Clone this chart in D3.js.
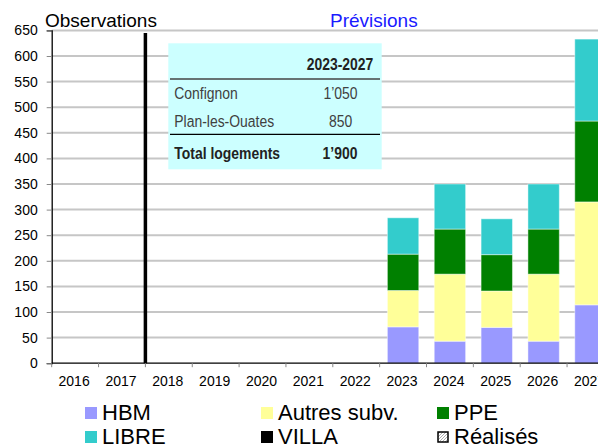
<!DOCTYPE html>
<html>
<head>
<meta charset="utf-8">
<script src="https://cdn.jsdelivr.net/npm/d3@7"></script>
<style>
  body { margin: 0; background: #fff; }
  svg { display: block; font-family: "Liberation Sans", Arial, sans-serif; }
</style>
</head>
<body>
<script>
// data
var years  = ["2016","2017","2018","2019","2020","2021","2022","2023","2024","2025","2026","2027"];
var hbm    = [0, 0, 0, 0, 0, 0, 0, 71, 43, 70, 43, 114];
var autres = [0, 0, 0, 0, 0, 0, 0, 71, 131, 71, 131, 201];
var ppe    = [0, 0, 0, 0, 0, 0, 0, 71, 88, 71, 88, 158];
var libre  = [0, 0, 0, 0, 0, 0, 0, 71, 88, 70, 88, 160];
var villa  = [0, 0, 0, 0, 0, 0, 0, 0, 0, 0, 0, 0];
var yTicks = [0, 50, 100, 150, 200, 250, 300, 350, 400, 450, 500, 550, 600, 650];

var seriesNames  = ["HBM", "Autres subv.", "PPE", "LIBRE", "VILLA"];
var seriesColors = ["#9999ff", "#ffff99", "#008000", "#33cccc", "#000000"];
var legendNames  = ["HBM", "Autres subv.", "PPE", "LIBRE", "VILLA", "Réalisés"];
var lastObservedYear = "2017";

var tableHeader = "2023-2027";
var tableLabels = ["Confignon", "Plan-les-Ouates"];
var tableValues = ["1’050", "850"];
var totalLabel = "Total logements";
var totalValue = "1’900";

// dimensions
var W = 598, H = 446;
var plotLeft = 51.7, plotBottom = 363.2, plotTop = 30.4;
var step = 46.85;

var svg = d3.select("body").append("svg")
    .attr("width", W)
    .attr("height", H);

var defs = svg.append("defs");
var pat = defs.append("pattern")
    .attr("id", "hatch")
    .attr("patternUnits", "userSpaceOnUse")
    .attr("width", 3).attr("height", 3);
pat.append("rect").attr("width", 3).attr("height", 3).attr("fill", "#fff");
pat.append("path").attr("d", "M0,3 L3,0").attr("stroke", "#999").attr("stroke-width", 0.8);

var x = d3.scaleBand()
    .domain(years)
    .range([plotLeft, plotLeft + step * years.length])
    .paddingInner(0.33)
    .paddingOuter(0.165);

var y = d3.scaleLinear().domain([0, 650]).range([plotBottom, plotTop]);

// gridlines
svg.append("g")
  .selectAll("line")
  .data(yTicks.slice(1))
  .enter().append("line")
    .attr("x1", plotLeft).attr("x2", W)
    .attr("y1", function(d) { return y(d); })
    .attr("y2", function(d) { return y(d); })
    .attr("stroke", "#c6c6c6")
    .attr("stroke-width", 2);

// stacked bars
var rows = years.map(function(yr, i) {
  return {year: yr, "HBM": hbm[i], "Autres subv.": autres[i], "PPE": ppe[i], "LIBRE": libre[i], "VILLA": villa[i]};
});
var stack = d3.stack().keys(seriesNames)(rows);

svg.append("g")
  .selectAll("g")
  .data(stack)
  .enter().append("g")
    .attr("fill", function(d, i) { return seriesColors[i]; })
  .selectAll("rect")
  .data(function(d) { return d.filter(function(p) { return p[1] - p[0] > 0; }); })
  .enter().append("rect")
    .attr("x", function(d) { return x(d.data.year); })
    .attr("width", x.bandwidth())
    .attr("y", function(d) { return y(d[1]); })
    .attr("height", function(d) { return y(d[0]) - y(d[1]); })
    .attr("stroke", "rgba(255,255,255,0.45)")
    .attr("stroke-width", 1);

// separator between observations and forecasts
var sepX = x(lastObservedYear) + x.step() - x.step() * x.paddingInner() / 2;
svg.append("line")
    .attr("x1", sepX).attr("x2", sepX)
    .attr("y1", y(650) + 2.5).attr("y2", plotBottom)
    .attr("stroke", "#000")
    .attr("stroke-width", 3.5);

// y axis
var yAxis = svg.append("g")
    .attr("transform", "translate(" + plotLeft + ",0)")
    .call(d3.axisLeft(y).tickValues(yTicks).tickSize(5).tickPadding(9));
yAxis.select(".domain").attr("stroke", "#000").attr("stroke-width", 1.3);
yAxis.selectAll(".tick line").attr("stroke", "#888");
yAxis.selectAll("text")
    .attr("font-family", "Liberation Sans, Arial, sans-serif")
    .attr("font-size", 14)
    .attr("fill", "#000");

// x axis with ticks at band boundaries
var xAxis = svg.append("g")
    .attr("transform", "translate(0," + plotBottom + ")");
xAxis.append("line")
    .attr("x1", plotLeft).attr("x2", W)
    .attr("stroke", "#000").attr("stroke-width", 1.3);
xAxis.selectAll(".bt")
  .data(years)
  .enter().append("line")
    .attr("class", "bt")
    .attr("x1", function(d) { return x(d) - x.step() * x.paddingInner() / 2; })
    .attr("x2", function(d) { return x(d) - x.step() * x.paddingInner() / 2; })
    .attr("y1", 0).attr("y2", 4)
    .attr("stroke", "#888");
xAxis.selectAll("text")
  .data(years)
  .enter().append("text")
    .attr("x", function(d) { return x(d) + x.bandwidth() / 2 - 1; })
    .attr("y", 23)
    .attr("text-anchor", "middle")
    .attr("font-size", 14)
    .text(function(d) { return d; });

// section titles
svg.append("text")
    .attr("x", 45).attr("y", 27)
    .attr("font-size", 19)
    .text("Observations");
svg.append("text")
    .attr("x", 330).attr("y", 27)
    .attr("font-size", 19)
    .attr("fill", "#1a1aff")
    .text("Prévisions");

// summary table (narrow text = Liberation Sans squeezed horizontally)
var tb = svg.append("g");
function narrow(tx, ty, txt, anchor, bold, color) {
  tb.append("text")
      .attr("transform", "translate(" + tx + "," + ty + ") scale(0.82,1)")
      .attr("text-anchor", anchor)
      .attr("font-size", 17)
      .attr("font-weight", bold ? "bold" : "normal")
      .attr("fill", color)
      .text(txt);
}
tb.append("rect")
    .attr("x", 168.3).attr("y", 43.3)
    .attr("width", 213.4).attr("height", 126)
    .attr("fill", "#ccffff");
narrow(340, 70, tableHeader, "middle", true, "#222");
tb.append("line")
    .attr("x1", 170).attr("x2", 380).attr("y1", 79).attr("y2", 79)
    .attr("stroke", "#444").attr("stroke-width", 1.3);
tableLabels.forEach(function(lab, i) {
  var by = 99 + i * 27.7;
  narrow(174.3, by, lab, "start", false, "#404040");
  narrow(340.5, by, tableValues[i], "middle", false, "#404040");
});
tb.append("line")
    .attr("x1", 170).attr("x2", 380).attr("y1", 134.3).attr("y2", 134.3)
    .attr("stroke", "#000").attr("stroke-width", 1.3);
narrow(174.3, 159.3, totalLabel, "start", true, "#222");
narrow(340, 159.3, totalValue, "middle", true, "#222");

// legend
var legendX = [85, 261, 437];
var legendY = [420, 444];
var legendFill = seriesColors.concat(["url(#hatch)"]);
var lg = svg.append("g")
  .selectAll("g")
  .data(legendNames)
  .enter().append("g")
    .attr("transform", function(d, i) {
      return "translate(" + legendX[i % 3] + "," + legendY[Math.floor(i / 3)] + ")";
    });
lg.append("rect")
    .attr("x", function(d, i) { return i === 5 ? 1 : 0; })
    .attr("y", function(d, i) { return i === 5 ? -12 : -13; })
    .attr("width", function(d, i) { return i === 5 ? 10 : 12; })
    .attr("height", function(d, i) { return i === 5 ? 10 : 12; })
    .attr("fill", function(d, i) { return legendFill[i]; })
    .attr("stroke", function(d, i) { return i === 5 ? "#000" : "none"; })
    .attr("stroke-width", 1.5);
lg.append("text")
    .attr("x", 17)
    .attr("y", 0)
    .attr("font-size", 22)
    .text(function(d) { return d; });
</script>
</body>
</html>
